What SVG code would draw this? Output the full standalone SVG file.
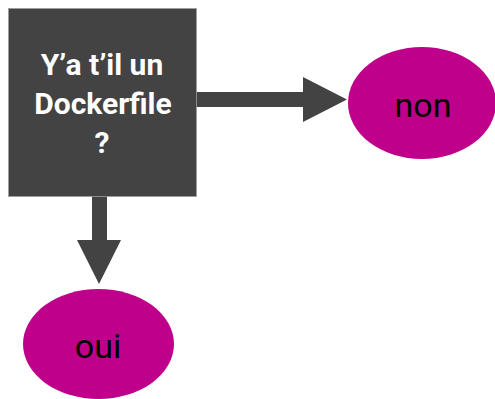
<svg xmlns="http://www.w3.org/2000/svg" width="495" height="399" viewBox="0 0 495 399">
<style>
.box{fill:#434343;stroke:#9e9e9e;stroke-width:0.8}
.ell{fill:#bf008b}
.conn{fill:#434343}
.t1{font-family:Roboto,"Liberation Sans",sans-serif;font-weight:bold;font-size:30px;fill:#ffffff;text-anchor:middle}
.t2{font-family:Roboto,"Liberation Sans",sans-serif;font-size:34px;fill:#000000;text-anchor:middle}
</style>
<rect x="0" y="0" width="495" height="399" fill="#ffffff"/>
<g id="connectors">
<polygon class="conn" points="196,92 303,92 303,77 347,99.5 303,122 303,107 196,107"/>
<polygon class="conn" points="92,196 107,196 107,240 121,240 99,284 77,240 92,240"/>
</g>
<g id="question">
<rect class="box" x="8.5" y="8.5" width="188" height="188"/>
<text class="t1" x="102" y="75">Y’a t’il un</text>
<text class="t1" x="103" y="114">Dockerfile</text>
<text class="t1" x="102" y="153">?</text>
</g>
<g id="non">
<ellipse class="ell" cx="422" cy="103" rx="74" ry="56"/>
<text class="t2" x="423" y="117">non</text>
</g>
<g id="oui">
<ellipse class="ell" cx="98.5" cy="344" rx="75.5" ry="55"/>
<text class="t2" x="98" y="358">oui</text>
</g>
</svg>
